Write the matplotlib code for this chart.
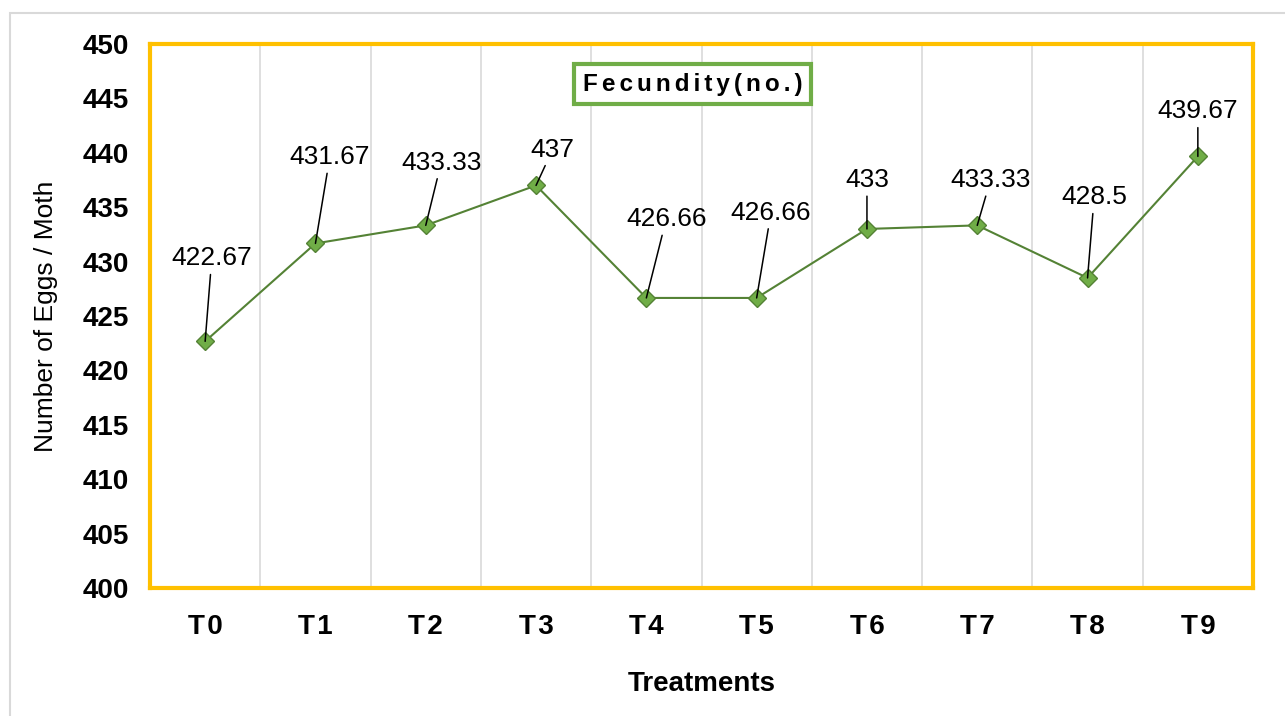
import matplotlib.pyplot as plt
from matplotlib.patches import Rectangle

plt.rcParams['font.family'] = ['Liberation Sans', 'DejaVu Sans']

treatments = ['T0', 'T1', 'T2', 'T3', 'T4', 'T5', 'T6', 'T7', 'T8', 'T9']
fecundity = [422.67, 431.67, 433.33, 437, 426.66, 426.66, 433, 433.33, 428.5, 439.67]
labels = ['422.67', '431.67', '433.33', '437', '426.66', '426.66', '433', '433.33', '428.5', '439.67']
# label centres (category offset, value)
label_dx = [0.06, 0.13, 0.14, 0.15, 0.18, 0.13, 0.0, 0.12, 0.06, 0.0]
label_y = [430.3, 439.6, 439.1, 440.3, 433.9, 434.5, 437.5, 437.5, 435.9, 443.8]

fig = plt.figure(figsize=(12.85, 7.16), dpi=100)
# light gray outer frame
fig.patches.append(Rectangle((10 / 1285, -0.01), 1.02, 1 - 13 / 716 + 0.01,
                             transform=fig.transFigure, fill=False,
                             edgecolor='#d9d9d9', linewidth=1.5))

ax = fig.add_axes([150 / 1285, 1 - 588 / 716, 1103 / 1285, 544 / 716])
x = list(range(len(treatments)))
ax.plot(x, fecundity, color='#548235', linewidth=1.5, marker='D', markersize=9,
        markerfacecolor='#70ad47', markeredgecolor='#548235', zorder=3)

for i in x:
    ax.annotate(labels[i], xy=(x[i], fecundity[i]),
                xytext=(x[i] + label_dx[i], label_y[i]),
                ha='center', va='center', fontsize=19,
                arrowprops=dict(arrowstyle='-', color='black', lw=1.1,
                                shrinkA=1, shrinkB=0))

ax.set_xlim(-0.5, 9.5)
ax.set_ylim(400, 450)
ax.set_yticks(range(400, 451, 5))
ax.set_xticks(x)
ax.set_xticklabels([t[0] + '\u200a' + t[1] for t in treatments])
ax.set_xticks([i + 0.5 for i in range(9)], minor=True)
ax.grid(True, which='minor', axis='x', color='#d9d9d9', linewidth=1.2)
ax.tick_params(which='both', length=0)
ax.tick_params(axis='x', pad=19, labelsize=20)
ax.tick_params(axis='y', pad=15, labelsize=20)
for t in ax.get_xticklabels() + ax.get_yticklabels():
    t.set_fontweight('bold')

for s in ax.spines.values():
    s.set_color('#ffc000')
    s.set_linewidth(3)

ax.set_xlabel('Treatments', fontsize=20, fontweight='bold', labelpad=22)
ax.set_ylabel('Number of Eggs / Moth', fontsize=19, labelpad=18)

ax.text(0.492, 0.926, '\u2006'.join('Fecundity(no.)'), transform=ax.transAxes,
        ha='center', va='center', fontsize=17.5, fontweight='bold',
        bbox=dict(boxstyle='square,pad=0.35', facecolor='white',
                  edgecolor='#70ad47', linewidth=3))

fig.savefig('out.png', dpi=100)
